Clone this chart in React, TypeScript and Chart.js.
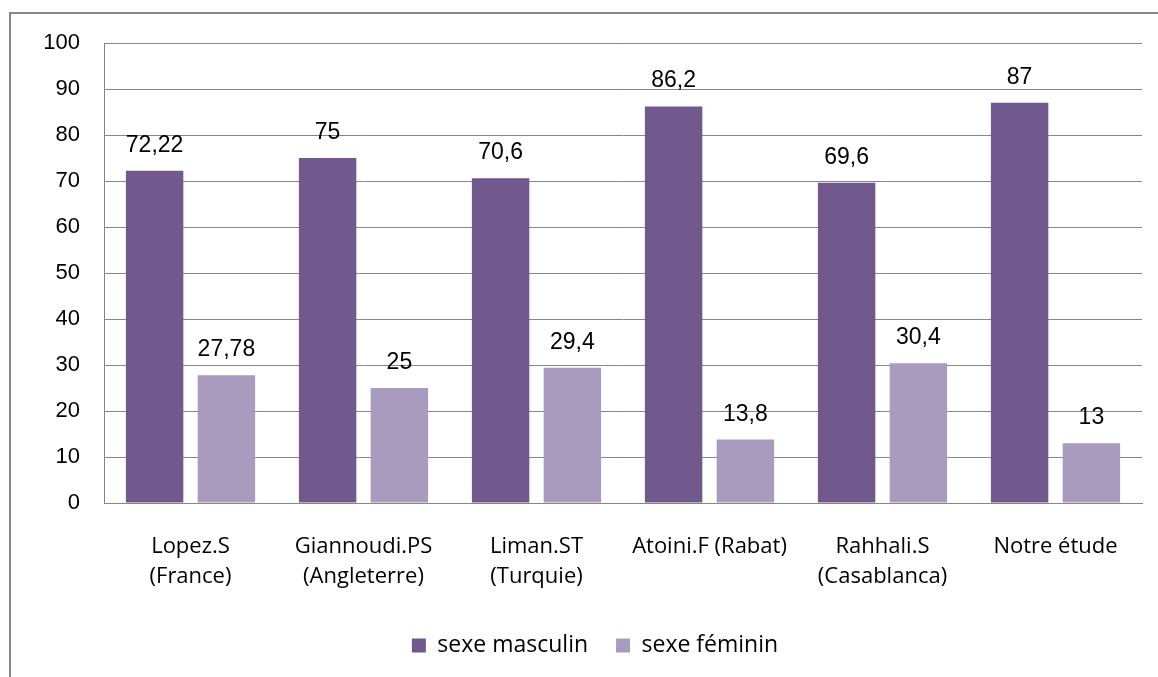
import React, { useEffect, useRef } from "react";
import { Chart, registerables } from "chart.js";

Chart.register(...registerables);

const categories: string[][] = [
  ["Lopez.S", "(France)"],
  ["Giannoudi.PS", "(Angleterre)"],
  ["Liman.ST", "(Turquie)"],
  ["Atoini.F (Rabat)"],
  ["Rahhali.S", "(Casablanca)"],
  ["Notre étude"],
];
const masculin: number[] = [72.22, 75, 70.6, 86.2, 69.6, 87];
const feminin: number[] = [27.78, 25, 29.4, 13.8, 30.4, 13];
const seriesNames: string[] = ["sexe masculin", "sexe féminin"];

const DARK = "#71598e";
const LIGHT = "#a99bbd";
const GRID = "#868686";

const valueLabels = {
  id: "valueLabels",
  afterDatasetsDraw(chart: any) {
    const ctx = chart.ctx;
    ctx.save();
    ctx.font = "23px 'Liberation Sans', Arial, sans-serif";
    ctx.fillStyle = "#000";
    ctx.textAlign = "center";
    ctx.textBaseline = "alphabetic";
    chart.data.datasets.forEach((ds: any, di: number) => {
      const meta = chart.getDatasetMeta(di);
      meta.data.forEach((el: any, i: number) => {
        const v = ds.data[i];
        const txt = String(v).replace(".", ",");
        ctx.fillText(txt, el.x, el.y - 19);
      });
    });
    ctx.restore();
  },
};

export default function App() {
  const ref = useRef<HTMLCanvasElement | null>(null);
  useEffect(() => {
    if (!ref.current) return;
    const chart = new Chart(ref.current, {
      type: "bar",
      data: {
        labels: categories,
        datasets: [
          {
            label: seriesNames[0],
            data: masculin,
            backgroundColor: DARK,
            categoryPercentage: 0.83,
            barPercentage: 0.8,
          },
          {
            label: seriesNames[1],
            data: feminin,
            backgroundColor: LIGHT,
            categoryPercentage: 0.83,
            barPercentage: 0.8,
          },
        ],
      },
      options: {
        animation: false,
        responsive: false,
        layout: { padding: { left: 39, right: 7, top: 43, bottom: 10 } },
        plugins: {
          tooltip: { enabled: false },
          legend: {
            position: "bottom",
            labels: {
              boxWidth: 14,
              boxHeight: 14,
              padding: 28,
              color: "#000",
              font: { family: "'Open Sans', sans-serif", size: 23 },
            },
          },
        },
        scales: {
          x: {
            grid: { display: false, drawTicks: false },
            border: { display: true, color: GRID },
            ticks: {
              color: "#000",
              padding: 29,
              maxRotation: 0,
              autoSkip: false,
              font: { family: "'Open Sans', sans-serif", size: 22, lineHeight: 1.36 },
            },
            afterFit: (s: any) => {
              s.height = 103;
            },
          },
          y: {
            min: 0,
            max: 100,
            ticks: {
              stepSize: 10,
              color: "#000",
              padding: 24,
              font: { family: "'Liberation Sans', Arial, sans-serif", size: 22 },
            },
            grid: { color: GRID, drawTicks: false },
            border: { display: true, color: GRID },
            afterFit: (s: any) => {
              s.width = 65;
            },
          },
          yRight: {
            position: "right",
            display: true,
            min: 0,
            max: 100,
            grid: { display: false, drawTicks: false },
            border: { display: false },
            ticks: { display: false },
            afterFit: (s: any) => {
              s.width = 9;
            },
          },
        },
      },
      plugins: [valueLabels],
    });
    return () => chart.destroy();
  }, []);

  return (
    <div
      style={{
        position: "absolute",
        left: 0,
        top: 0,
        width: 1158,
        height: 677,
        overflow: "hidden",
        background: "#fff",
      }}
    >
      <div
        style={{
          position: "absolute",
          left: 9,
          top: 12,
          width: 1200,
          height: 700,
          borderLeft: "2px solid #878787",
          borderTop: "2px solid #878787",
        }}
      />
      <canvas
        ref={ref}
        width={1158}
        height={677}
        style={{ position: "absolute", left: 0, top: 0, width: 1158, height: 677 }}
      />
    </div>
  );
}
